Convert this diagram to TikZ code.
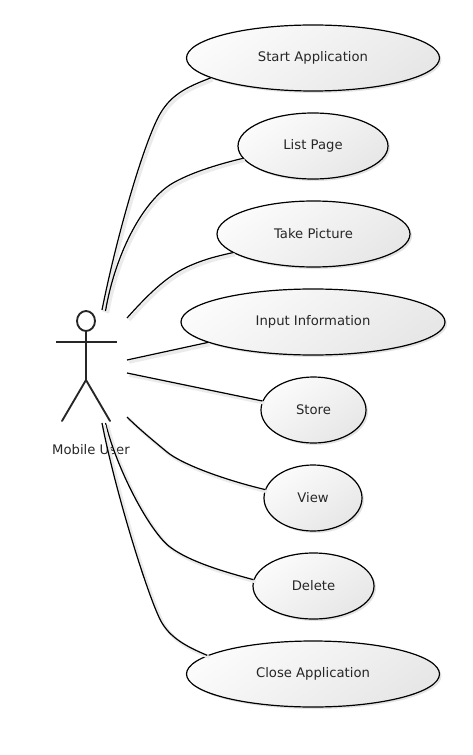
\documentclass[tikz,border=0pt]{standalone}
\usepackage{fontspec}
\setmainfont{DejaVu Sans}
\usetikzlibrary{shapes.geometric,shadows}
\newcommand{\uctext}[1]{\raisebox{-0.7pt}{#1}}
\tikzset{
  usecase/.style={ellipse,draw=black,line width=0.9pt,inner sep=0pt,
    top color=gray!3,bottom color=gray!19,shading angle=35,
    drop shadow={shadow xshift=1.5pt,shadow yshift=-1.5pt,fill=black!18,opacity=0.6},
    text=black!85,font=\fontsize{9.9pt}{11pt}\selectfont},
  assoc/.style={line width=0.9pt,black,
    preaction={draw=black!8,line width=2.4pt,transform canvas={xshift=1.6pt,yshift=-1.6pt}}},
  limb/.style={line width=1.4pt,black!85,line cap=round},
  armline/.style={line width=1pt,black!85},
  labeltext/.style={text=black!85,inner sep=0pt,font=\fontsize{9.9pt}{11pt}\selectfont}
}
\begin{document}
\begin{tikzpicture}[x=0.75pt,y=-0.75pt]
\useasboundingbox (0,0) rectangle (472,755);
\node[usecase,minimum width=253pt*0.75,minimum height=66pt*0.75] (start) at (313,58) {\uctext{Start Application}};
\node[usecase,minimum width=150pt*0.75,minimum height=66pt*0.75] (list) at (313,146) {\uctext{List Page}};
\node[usecase,minimum width=193pt*0.75,minimum height=66pt*0.75] (take) at (313.5,234) {\uctext{Take Picture}};
\node[usecase,minimum width=264pt*0.75,minimum height=66pt*0.75] (input) at (313,322) {\uctext{Input Information}};
\node[usecase,minimum width=105pt*0.75,minimum height=66pt*0.75] (store) at (313.5,410) {\uctext{Store}};
\node[usecase,minimum width=98pt*0.75,minimum height=66pt*0.75] (view) at (313,498) {\uctext{View}};
\node[usecase,minimum width=121pt*0.75,minimum height=66pt*0.75] (delete) at (313.5,586) {\uctext{Delete}};
\node[usecase,minimum width=253pt*0.75,minimum height=66pt*0.75] (close) at (313,674) {\uctext{Close Application}};
% actor
\draw[limb] (86,321) ellipse (9 and 10);
\coordinate (neck) at (86,331);
\coordinate (hip) at (86,380);
\coordinate (handL) at (56,342);
\coordinate (handR) at (117,342);
\coordinate (footL) at (62,421);
\coordinate (footR) at (110,421);
\draw[armline] (handL) -- (handR);
\draw[limb] (neck) -- (hip);
\draw[limb] (footL) -- (hip) -- (footR);
\node[labeltext] (actor) at (91,449.5) {Mobile User};
% free ends
\coordinate (a1) at (102,310);
\coordinate (a2) at (105.5,311);
\coordinate (a3) at (127,318);
\coordinate (a4) at (127,360);
\coordinate (a5) at (127,373);
\coordinate (a6) at (127,417);
\coordinate (a7) at (105.5,423);
\coordinate (a8) at (102,423);
\draw[assoc] (a1) .. controls (118,230) and (145,140) .. (160,114) .. controls (172,93) and (190,86) .. (start.191);
\draw[assoc] (a2) .. controls (116,250) and (145,199) .. (173,183) .. controls (190,173.3) and (215,165) .. (list.190);
\draw[assoc] (a3) .. controls (145,298) and (165,277) .. (187,267) .. controls (205,258.8) and (218,256) .. (take.193);
\draw[assoc] (a4) -- (input.191);
\draw[assoc] (a5) -- (store.170);
\draw[assoc] (a6) .. controls (137,427) and (150,438) .. (167,452) .. controls (182,464.4) and (225,480) .. (view.170);
\draw[assoc] (a7) .. controls (117,470) and (150,532) .. (170,547) .. controls (190,562) and (225,572) .. (delete.174);
\draw[assoc] (a8) .. controls (116,495) and (150,603) .. (162,623) .. controls (172,639.7) and (190,648) .. (close.170);
\end{tikzpicture}
\end{document}
